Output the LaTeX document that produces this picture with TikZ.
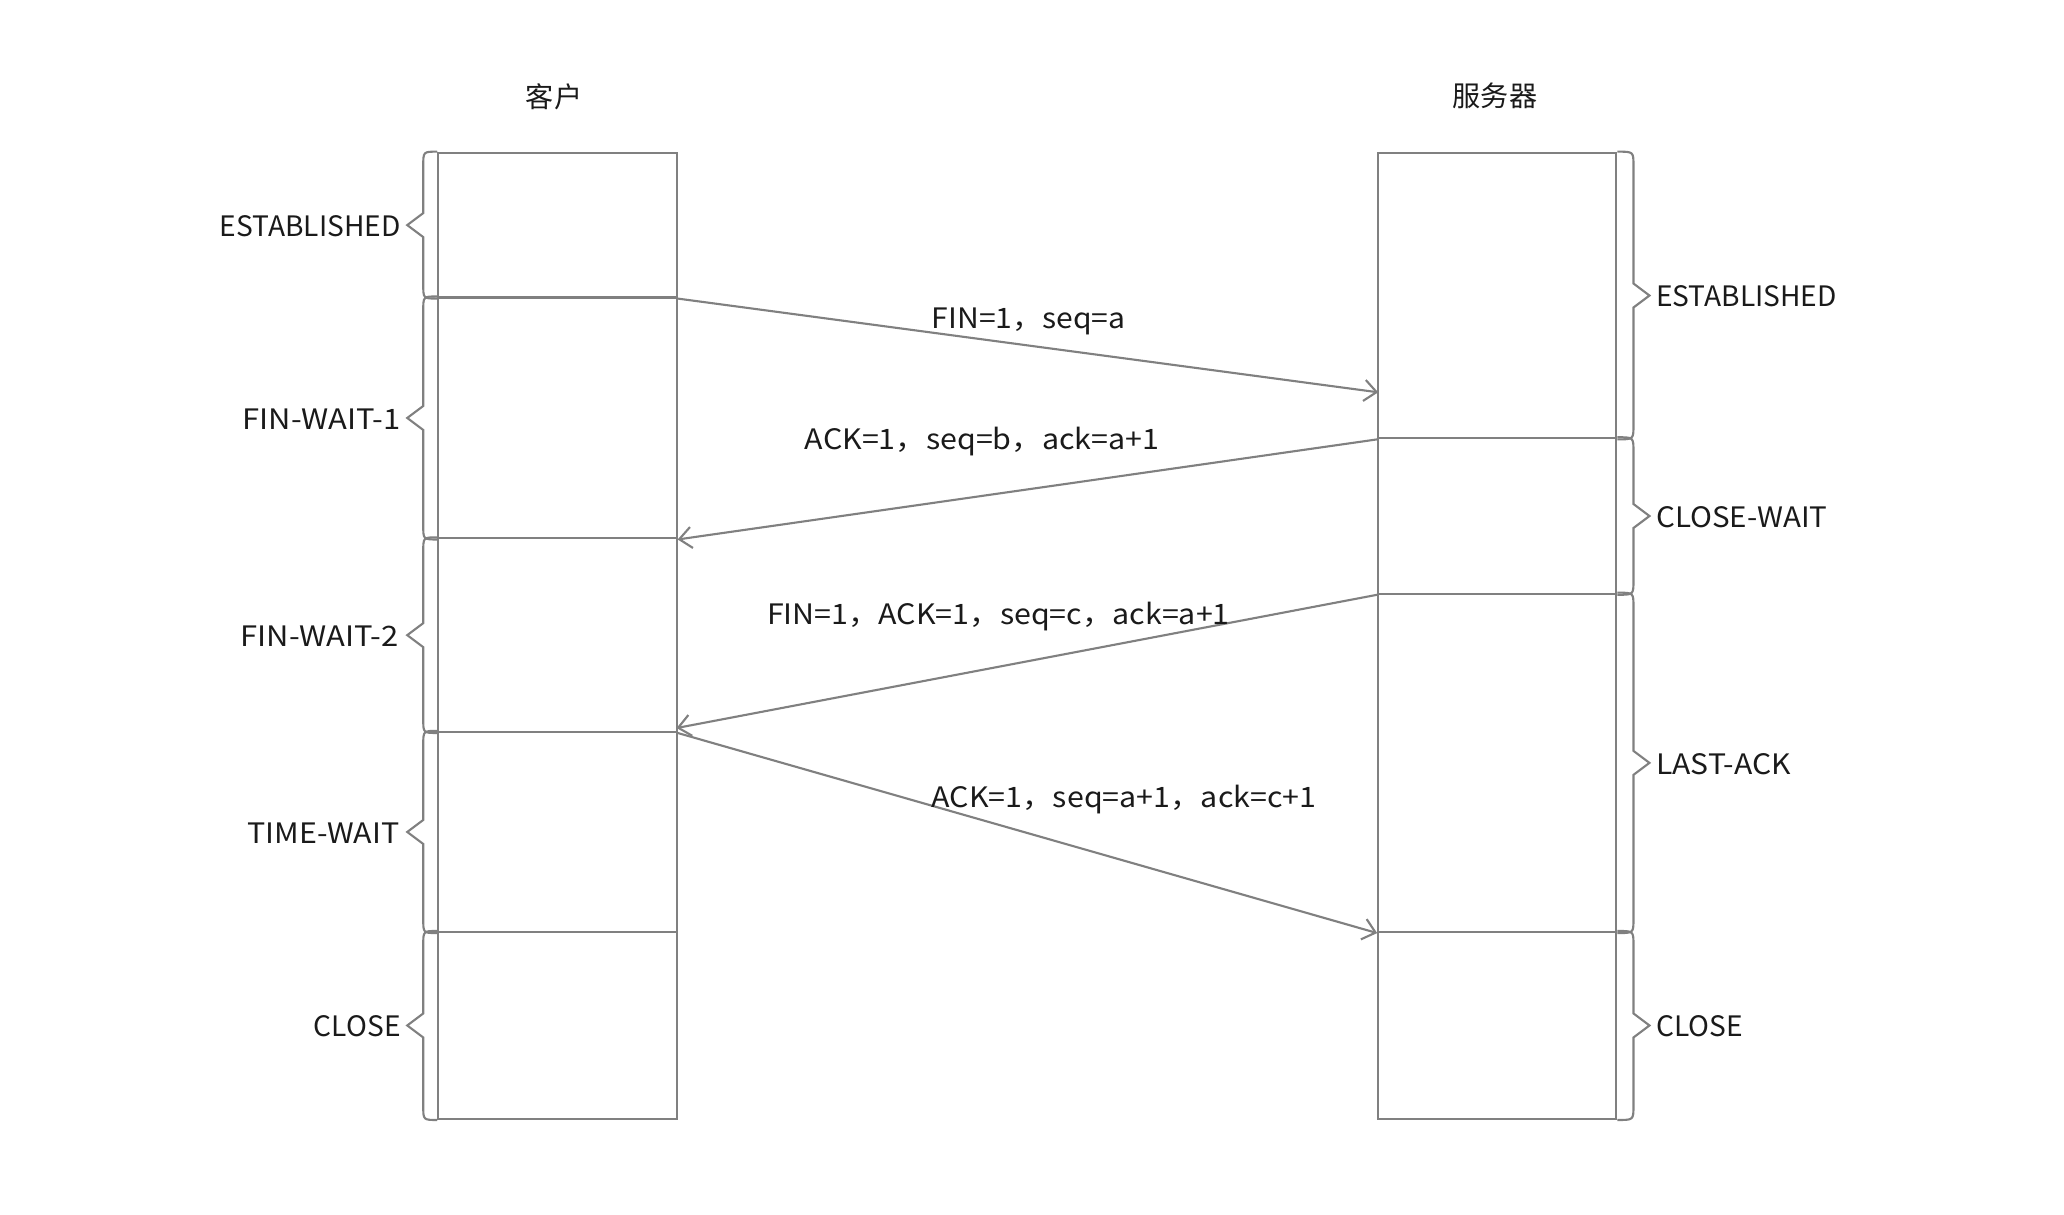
\documentclass[tikz,border=0pt]{standalone}
\usepackage{fontspec}
\setmainfont{Noto Sans CJK SC}
\usetikzlibrary{arrows.meta,calc,fit}
\definecolor{lncol}{HTML}{808080}
\definecolor{txcol}{HTML}{1A1A1A}
\tikzset{
  seg/.style={draw=lncol, line width=0.6pt, inner sep=0pt},
  bracepath/.style={draw=lncol, line width=0.6pt, line join=miter},
  msg/.style={draw=lncol, line width=0.6pt, -{Straight Barb[length=3.5pt,width=6pt]}},
  txt/.style={text=txcol, inner sep=0pt, font=\fontsize{8pt}{10pt}\selectfont},
}
\newcommand\leftbr[1]{%
  \draw[bracepath] (#1.north west) .. controls ($(#1.north west)+(-14,0)$) .. ($(#1.north west)+(-14,14)$)
    -- ($(#1.west)+(-14,-12)$) -- ($(#1.west)+(-30,0)$) -- ($(#1.west)+(-14,12)$)
    -- ($(#1.south west)+(-14,-14)$) .. controls ($(#1.south west)+(-14,0)$) .. (#1.south west);}
\newcommand\rightbr[1]{%
  \draw[bracepath] (#1.north east) .. controls ($(#1.north east)+(16,0)$) .. ($(#1.north east)+(16,14)$)
    -- ($(#1.east)+(16,-12)$) -- ($(#1.east)+(32,0)$) -- ($(#1.east)+(16,12)$)
    -- ($(#1.south east)+(16,-14)$) .. controls ($(#1.south east)+(16,0)$) .. (#1.south east);}
\begin{document}
\begin{tikzpicture}[x=0.01cm,y=-0.01cm]
\useasboundingbox[fill=white] (0,0) rectangle (2064,1214);

% titles
\node[txt] (client) at (554,97) {客户};
\node[txt] (server) at (1495,96) {服务器};

% client segments
\node[seg, fit={(438.3,152.7)(676.6,297.5)}] (c1) {};
\node[seg, fit={(438.3,297.5)(676.6,538.4)}] (c2) {};
\node[seg, fit={(438.3,538.4)(676.6,731.9)}] (c3) {};
\node[seg, fit={(438.3,731.9)(676.6,932)}] (c4) {};
\node[seg, fit={(438.3,932)(676.6,1118.9)}] (c5) {};

% server segments
\node[seg, fit={(1378.2,152.7)(1616.4,438.3)}] (s1) {};
\node[seg, fit={(1378.2,438.3)(1616.4,593.7)}] (s2) {};
\node[seg, fit={(1378.2,593.7)(1616.4,932)}] (s3) {};
\node[seg, fit={(1378.2,932)(1616.4,1118.9)}] (s4) {};

% braces
\leftbr{c1}\leftbr{c2}\leftbr{c3}\leftbr{c4}\leftbr{c5}
\rightbr{s1}\rightbr{s2}\rightbr{s3}\rightbr{s4}

% state labels (client)
\node[txt, anchor=east] (lc1) at ($(c1.west)+(-36,1)$) {ESTABLISHED};
\node[txt, anchor=east, xscale=1.1] (lc2) at ($(c2.west)+(-36,1)$) {FIN-WAIT-1};
\node[txt, anchor=east, xscale=1.1] (lc3) at ($(c3.west)+(-38,1)$) {FIN-WAIT-2};
\node[txt, anchor=east, xscale=1.08] (lc4) at ($(c4.west)+(-37,1)$) {TIME-WAIT};
\node[txt, anchor=east] (lc5) at ($(c5.west)+(-36,1)$) {CLOSE};

% state labels (server)
\node[txt, anchor=west] (ls1) at ($(s1.east)+(38,1)$) {ESTABLISHED};
\node[txt, anchor=west, xscale=1.05] (ls2) at ($(s2.east)+(38,1)$) {CLOSE-WAIT};
\node[txt, anchor=west, xscale=1.07] (ls3) at ($(s3.east)+(38,1)$) {LAST-ACK};
\node[txt, anchor=west] (ls4) at ($(s4.east)+(38,1)$) {CLOSE};

% messages
\coordinate (e1) at (1378.2,392.3);
\coordinate (e3) at (676.6,728);
\draw[msg] (c1.south east) -- (e1);
\draw[msg] (s1.south west) -- (c2.south east);
\draw[msg] (s2.south west) -- (e3);
\draw[msg] (c3.south east) -- (s3.south west);

\node[txt, xscale=1.07] (m1) at (1028.7,321.5) {FIN=1，seq=a};
\node[txt, xscale=1.08] (m2) at (982,441.3) {ACK=1，seq=b，ack=a+1};
\node[txt, xscale=1.08] (m3) at (998.4,616.4) {FIN=1，ACK=1，seq=c，ack=a+1};
\node[txt, xscale=1.08] (m4) at (1124,799.4) {ACK=1，seq=a+1，ack=c+1};
\end{tikzpicture}
\end{document}
